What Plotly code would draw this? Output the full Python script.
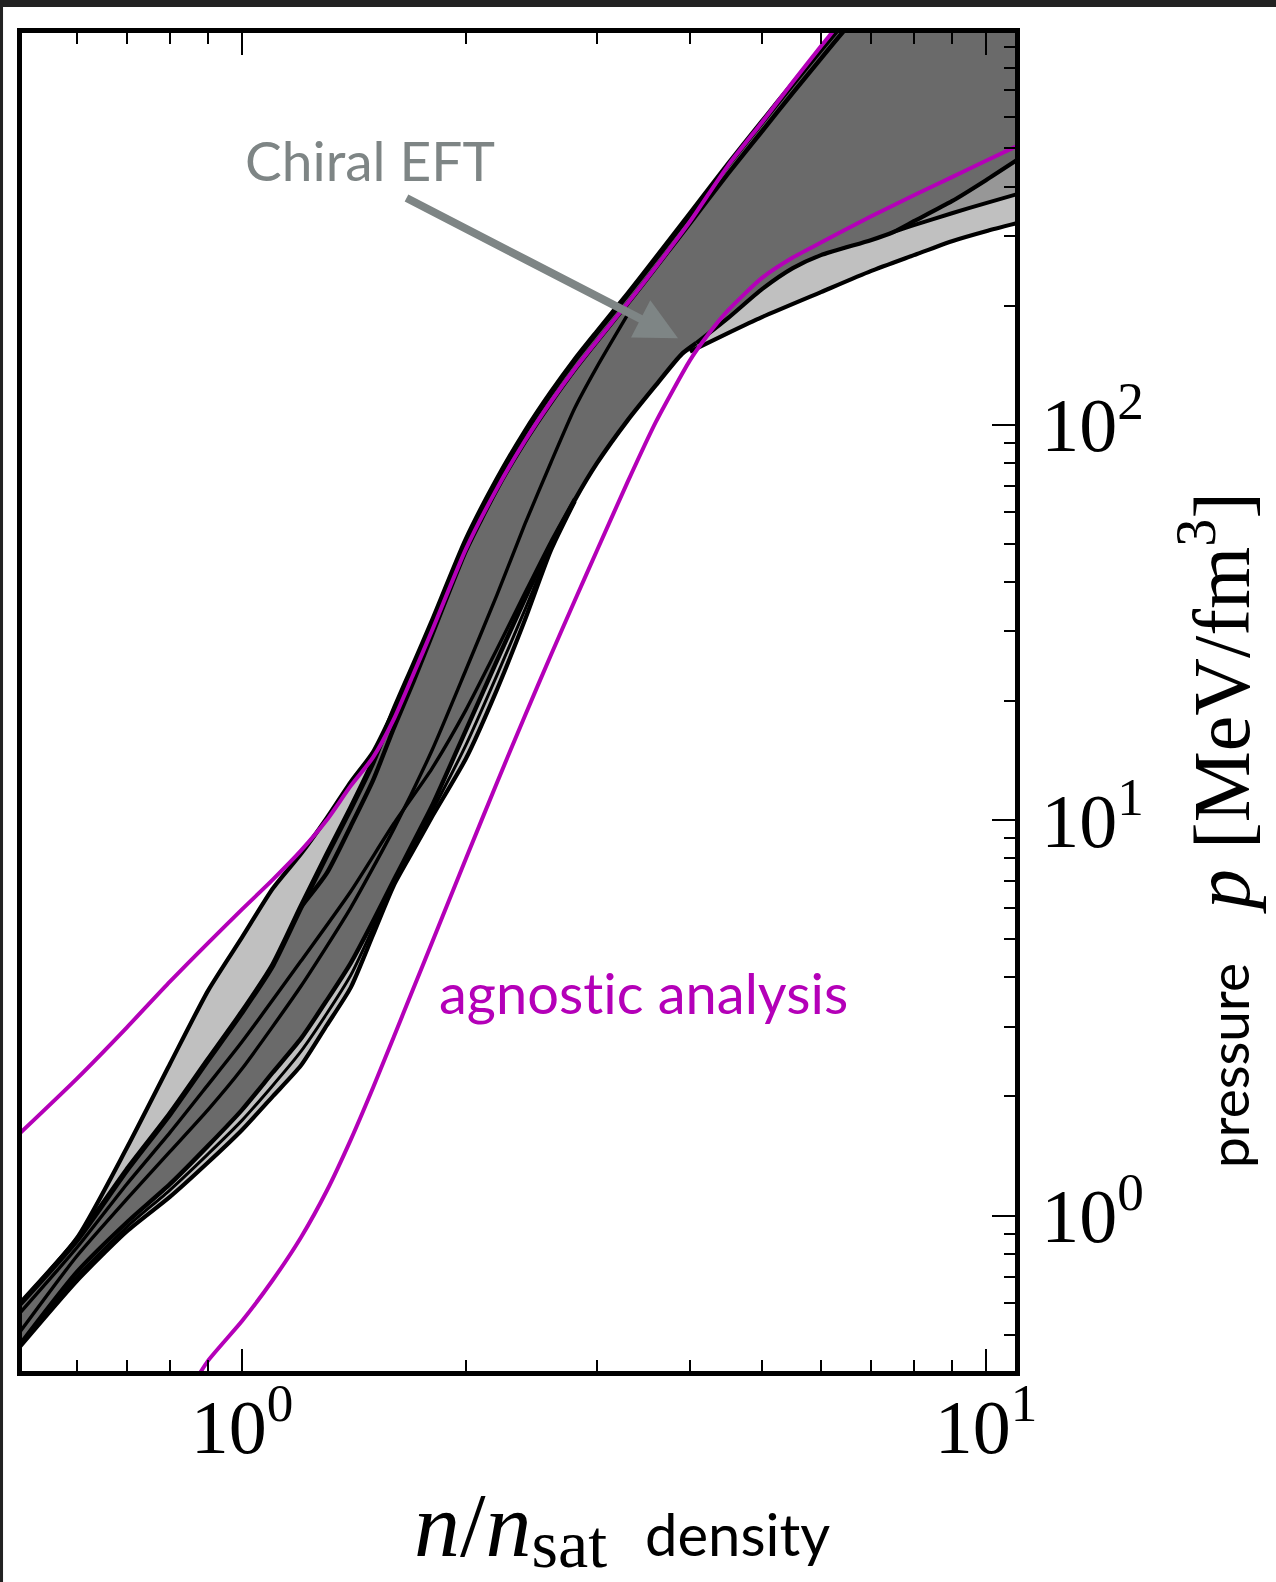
import plotly.graph_objects as go

# ---------------------------------------------------------------
# Equation-of-state bands: pressure p [MeV/fm^3] vs density n/n_sat
# ---------------------------------------------------------------

# upper edge of the dark band (outermost black line)
n_dark_up = [0.5, 0.6, 0.7, 0.8, 0.9, 1.0, 1.1, 1.2, 1.3, 1.4, 1.5, 1.6, 1.7, 1.8,
             2.0, 2.2, 2.4, 2.6, 2.8, 3.0, 3.3, 3.6, 4.0, 4.5, 5.0, 5.5, 6.0, 6.3, 6.5]
p_dark_up = [0.590, 0.867, 1.303, 1.806, 2.474, 3.269, 4.299, 6.026, 8.155, 10.72, 14.02,
             18.97, 24.66, 31.67, 51.05, 72.39, 95.72, 120.1, 145.6, 171.4, 213.8, 263.6,
             340.6, 454.6, 582.6, 727.3, 888.5, 991.5, 1064]

# second black line just inside the upper edge
n_dark_in = [1.2, 1.3, 1.4, 1.5, 1.6, 1.7, 1.8, 2.0, 2.2, 2.4, 2.6, 2.8, 3.0, 3.3, 3.6,
             4.0, 4.5, 5.0, 5.5, 6.0, 6.5, 6.8]
p_dark_in = [6.026, 7.34, 9.65, 12.6, 17.1, 22.4, 29.3, 48.0, 68.5, 90.5, 113.5, 137.8,
             162.5, 202.5, 250.0, 323.0, 431.0, 552.0, 690.0, 843.0, 1010, 1110]

# lower edge of the dark band up to the pinch point
n_dark_low = [0.5, 0.6, 0.7, 0.8, 0.9, 1.0, 1.1, 1.2, 1.3, 1.4, 1.5, 1.6, 1.7, 1.8,
              2.0, 2.2, 2.4, 2.6, 2.8, 3.0, 3.3, 3.6, 3.9, 4.08]
p_dark_low = [0.465, 0.72, 0.96, 1.20, 1.50, 1.85, 2.30, 2.80, 3.50, 4.35,
              5.55, 7.05, 8.799, 10.85, 16.89, 25.23, 36.22, 49.58, 64.43, 79.91,
              102.7, 125.9, 150.8, 160.7]

# high-density branches leaving the pinch point
n_hi_a = [4.08, 4.5, 5.0, 5.5, 6.0, 7.0, 7.5, 8.0, 9.0, 10, 11]
p_hi_a = [160.7, 185.9, 220.1, 248.7, 268.3, 292.7, 306.6, 326.9, 367.4, 415.2, 466.6]

n_hi_b = [7.5, 8.0, 9.0, 10, 11]
p_hi_b = [306.6, 319.4, 342.5, 363.2, 382.6]

n_hi_c = [4.0, 4.5, 5.0, 6.0, 7.0, 8.0, 9.0, 10, 11]
p_hi_c = [153.0, 170.4, 187.0, 216.3, 244.4, 268.3, 291.1, 308.5, 323.2]

# light band: stiff low-density lens and soft low-density edge
n_light_up = [0.5, 0.6, 0.7, 0.8, 0.9, 1.0, 1.1, 1.2, 1.3, 1.4, 1.5, 1.6]
p_light_up = [0.590, 0.877, 1.481, 2.416, 3.700, 5.050, 6.711, 8.204, 10.12, 12.48,
              14.86, 18.97]

n_light_low = [0.5, 0.6, 0.7, 0.8, 0.9, 1.0, 1.1, 1.2, 1.3, 1.4, 1.5, 1.6, 1.7, 1.8,
               2.0, 2.2, 2.4, 2.6, 2.8]
p_light_low = [0.460, 0.684, 0.911, 1.114, 1.361, 1.645, 2.001, 2.394, 3.025, 3.770,
               5.123, 6.841, 8.398, 10.18, 14.31, 21.32, 32.05, 48.0, 64.0]

# individual curves running inside the bands
n_mid_s = [0.5, 0.6, 0.7, 0.8, 0.9, 1.0, 1.2, 1.4, 1.6, 1.8, 2.0, 2.2, 2.4, 2.6, 2.8]
p_mid_s = [0.462, 0.70, 0.935, 1.16, 1.43, 1.74, 2.6, 4.05, 6.95, 10.5, 15.5, 23.2, 34.0,
           48.8, 64.2]

n_mid_1 = [0.5, 0.6, 0.7, 0.8, 0.9, 1.0, 1.2, 1.4, 1.6, 1.8, 2.0, 2.2, 2.4, 2.6, 2.8]
p_mid_1 = [0.56, 0.83, 1.20, 1.62, 2.14, 2.75, 4.4, 6.6, 9.8, 13.5, 19.0, 27.0, 37.5, 50.5,
           65.0]

n_mid_2 = [0.5, 0.6, 0.7, 0.8, 0.9, 1.0, 1.2, 1.4, 1.6, 1.8, 2.0, 2.2, 2.4, 2.6, 2.8,
           3.0, 3.3]
p_mid_2 = [0.50, 0.79, 1.10, 1.45, 1.85, 2.35, 3.8, 6.0, 9.5, 15.0, 24.0, 37.0, 56.0,
           80.0, 110.0, 140.0, 190.0]

# agnostic analysis envelope (magenta)
n_agn_up = [0.5, 0.6, 0.7, 0.8, 0.9, 1.0, 1.1, 1.2, 1.3, 1.4, 1.5, 1.6, 1.7, 1.8,
            2.0, 2.2, 2.4, 2.6, 2.8, 3.0, 3.3, 3.6, 4.0, 4.5, 5.0, 5.5, 6.0, 6.3, 6.5]
p_agn_up = [1.598, 2.22, 2.988, 3.903, 4.887, 5.945, 7.069, 8.367, 10.0, 12.2, 14.4,
            18.0, 23.4, 30.1, 48.5, 68.8, 90.9, 114.1, 138.3, 162.8, 203, 250.4, 326,
            452, 582, 735, 905, 1015, 1090]

n_agn_low = [0.86, 0.9, 1.0, 1.1, 1.2, 1.3, 1.4, 1.5, 1.6, 1.7, 1.8, 2.0, 2.2, 2.4,
             2.6, 2.8, 3.0, 3.3, 3.6, 4.0, 4.2, 4.5, 5.0, 5.5, 6.0, 7.0, 8.0, 9.0, 10, 11]
p_agn_low = [0.375, 0.429, 0.541, 0.687, 0.880, 1.155, 1.554, 2.105, 2.833, 3.754,
             4.898, 7.995, 12.40, 18.34, 26.08, 35.86, 48.07, 71.74, 101.6, 145.4,
             165.9, 194.4, 235.0, 264.6, 288.7, 335.9, 380.2, 422.7, 464.7, 506.4]

# axes
n_range_log = [-0.2957, 1.039]
p_range_log = [-0.3932, 2.9904]
n_major = [1, 10]
n_major_text = ["10<sup>0</sup>", "10<sup>1</sup>"]
n_minor = [0.6, 0.7, 0.8, 0.9, 2, 3, 4, 5, 6, 7, 8, 9]
p_major = [1, 10, 100]
p_major_text = ["10<sup>0</sup>", "10<sup>1</sup>", "10<sup>2</sup>"]
p_minor = [0.5, 0.6, 0.7, 0.8, 0.9, 2, 3, 4, 5, 6, 7, 8, 9,
           20, 30, 40, 50, 60, 70, 80, 90, 200, 300, 400, 500, 600, 700, 800, 900]

DARK = "#6a6a6a"
LIGHT = "#c0c0c0"
MID = "#979797"
MAGENTA = "#b400b8"
ARROW_GRAY = "#7e8585"
SERIF = "Liberation Serif"
SANS = "Lato"

fig = go.Figure()

# light band polygon: lens + soft edge + high density wedge
light_x = (n_light_up + n_dark_up[12:] + [n_hi_c[-1]] + n_hi_c[::-1]
           + n_dark_low[19:-1][::-1] + n_light_low[:-1][::-1])
light_y = (p_light_up + p_dark_up[12:] + [p_dark_up[-1]] + p_hi_c[::-1]
           + p_dark_low[19:-1][::-1] + p_light_low[:-1][::-1])
fig.add_trace(go.Scatter(x=light_x, y=light_y, mode="none", fill="toself",
                         fillcolor=LIGHT, hoverinfo="skip"))

# dark band polygon
dark_x = n_dark_up + [n_hi_a[-1]] + n_hi_a[::-1] + n_dark_low[::-1]
dark_y = p_dark_up + [p_dark_up[-1]] + p_hi_a[::-1] + p_dark_low[::-1]
fig.add_trace(go.Scatter(x=dark_x, y=dark_y, mode="none", fill="toself",
                         fillcolor=DARK, hoverinfo="skip"))

# medium wedge at the highest densities
mid_x = n_hi_b + n_hi_a[6:][::-1]
mid_y = p_hi_b + p_hi_a[6:][::-1]
fig.add_trace(go.Scatter(x=mid_x, y=mid_y, mode="none", fill="toself",
                         fillcolor=MID, hoverinfo="skip"))


def curve(nv, pv, color="black", width=4.0):
    fig.add_trace(go.Scatter(x=nv, y=pv, mode="lines", hoverinfo="skip",
                             line=dict(color=color, width=width, shape="spline",
                                       smoothing=0.6)))


curve(n_mid_s, p_mid_s, width=3.0)
curve(n_mid_1, p_mid_1, width=3.4)
curve(n_mid_2, p_mid_2, width=3.4)
curve(n_light_up, p_light_up, width=4.2)
curve(n_light_low, p_light_low, width=4.2)
curve(n_dark_low, p_dark_low, width=4.4)
curve(n_hi_a, p_hi_a, width=4.2)
curve(n_hi_b, p_hi_b, width=4.0)
curve(n_hi_c, p_hi_c, width=4.2)
curve(n_dark_in, p_dark_in, width=4.4)
curve(n_dark_up, p_dark_up, width=5.5)
curve(n_agn_up, p_agn_up, color=MAGENTA, width=4.0)
curve(n_agn_low, p_agn_low, color=MAGENTA, width=4.0)

axis_common = dict(
    type="log", showgrid=False, zeroline=False,
    showline=True, linewidth=5, linecolor="black",
    ticks="inside", tickwidth=2.2, tickcolor="black",
    tickmode="array",
    tickfont=dict(family=SERIF, size=76, color="black"),
)

fig.update_layout(
    width=1276, height=1582,
    margin=dict(l=22, r=261, t=33, b=211),
    paper_bgcolor="white", plot_bgcolor="white",
    showlegend=False,
    xaxis=dict(axis_common, range=n_range_log, mirror="ticks", ticklen=22,
               tickvals=n_major, ticktext=n_major_text, ticklabelstandoff=-14,
               minor=dict(tickmode="array", tickvals=n_minor, ticks="inside",
                          ticklen=11, tickwidth=2.2, tickcolor="black", showgrid=False)),
    yaxis=dict(axis_common, range=p_range_log, side="right", mirror=True, ticklen=23,
               tickvals=p_major, ticktext=p_major_text, ticklabelstandoff=6,
               minor=dict(tickmode="array", tickvals=p_minor, ticks="inside",
                          ticklen=11, tickwidth=2.2, tickcolor="black", showgrid=False)),
)

# dark page edge along the top and left
fig.add_shape(type="rect", xref="paper", yref="paper", x0=-0.03, x1=1.27,
              y0=1.0194, y1=1.03, fillcolor="#222222", line_width=0, layer="above")
fig.add_shape(type="rect", xref="paper", yref="paper", x0=-0.03, x1=-0.0191,
              y0=-0.2, y1=1.03, fillcolor="#222222", line_width=0, layer="above")

# labels inside the plot
fig.add_annotation(x=0.1727, y=2.6688, xref="x", yref="y", text="Chiral EFT",
                   showarrow=False, xanchor="center", yanchor="middle",
                   font=dict(family=SANS, size=55, color=ARROW_GRAY))
fig.add_annotation(x=0.586, y=2.2187, ax=0.2191, ay=2.5752, xref="x", yref="y",
                   axref="x", ayref="y", text="", showarrow=True, arrowhead=2,
                   arrowsize=1.05, arrowwidth=8, arrowcolor=ARROW_GRAY, standoff=0)
fig.add_annotation(x=0.5397, y=0.5651, xref="x", yref="y",
                   text='agnos<span style="font-size:55.8px">t</span>ic analysis',
                   showarrow=False, xanchor="center", yanchor="middle",
                   font=dict(family=SANS, size=56, color=MAGENTA))

# axis titles
fig.add_annotation(
    x=0.6042, y=-0.1175, xref="paper", yref="paper", showarrow=False,
    xanchor="center", yanchor="middle",
    text=('<i>n</i>/<i>n</i>'
          '<span style="font-size:68px;baseline-shift:-11px">sat</span> '
          '<span style="font-family:Lato;font-size:58px"> density</span>'),
    font=dict(family=SERIF, size=92, color="black"))
fig.add_annotation(
    x=1.2014, y=0.4043, xref="paper", yref="paper", showarrow=False,
    xanchor="center", yanchor="middle", textangle=-90,
    text=('<span style="font-family:Lato;font-size:55px">pressure </span>  '
          '<i>p</i> [MeV/fm<sup>3</sup>]'),
    font=dict(family=SERIF, size=80, color="black"))

fig.write_html("out.html")
